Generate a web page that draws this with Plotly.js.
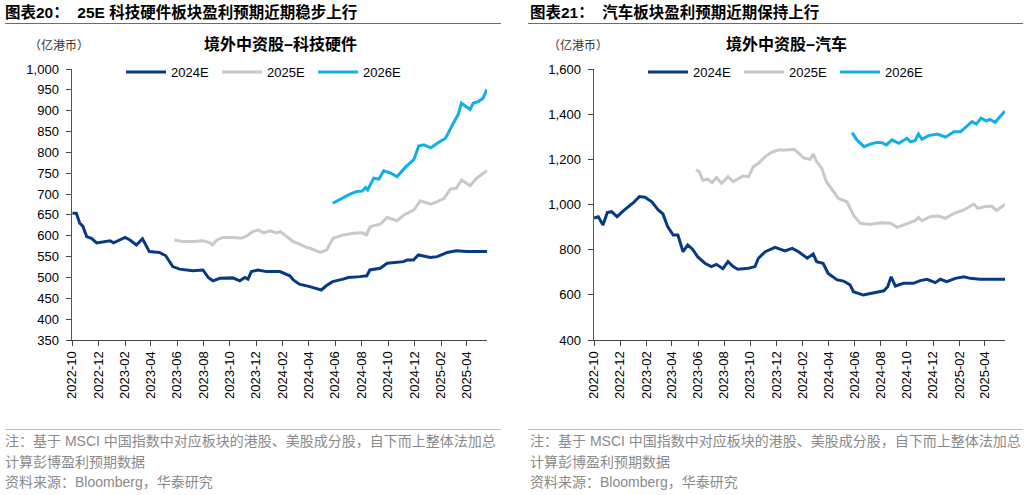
<!DOCTYPE html>
<html>
<head>
<meta charset="utf-8">
<script src="https://cdn.plot.ly/plotly-3.0.1.min.js"></script>
<style>
html,body{margin:0;padding:0;background:#fff;overflow:hidden;}
#chart{width:1030px;height:495px;}
</style>
</head>
<body>
<div id="chart"></div>
<script>
// ---- Chart 20: 境外中资股-科技硬件 ----
const tech2024Dates = ['2022-10-02','2022-10-11','2022-10-19','2022-10-26','2022-11-04','2022-11-15','2022-11-27','2022-12-12','2022-12-28','2023-01-05','2023-01-20','2023-02-01','2023-02-12','2023-02-27','2023-03-13','2023-03-29','2023-04-21','2023-05-06','2023-05-22','2023-06-07','2023-07-07','2023-07-31','2023-08-12','2023-08-23','2023-09-08','2023-10-08','2023-10-24','2023-11-05','2023-11-12','2023-11-20','2023-12-05','2023-12-25','2024-01-25','2024-02-17','2024-02-25','2024-03-10','2024-04-03','2024-04-30','2024-05-11','2024-05-26','2024-06-19','2024-07-01','2024-07-28','2024-08-13','2024-08-20','2024-09-13','2024-09-29','2024-10-21','2024-11-06','2024-11-14','2024-11-29','2024-12-10','2025-01-07','2025-01-23','2025-02-15','2025-03-08','2025-04-01','2025-05-18'];
const tech2024Values = [654,654,630,623,598,594,583,586,588,583,591,596,590,578,593,562,560,552,526,520,516,518,500,492,498,499,492,500,496,514,518,514,514,504,494,484,478,470,480,490,496,500,502,504,518,522,534,536,538,542,542,554,548,550,560,564,562,562];

const tech2025Dates = ['2023-05-26','2023-06-15','2023-07-07','2023-07-31','2023-08-16','2023-08-22','2023-09-01','2023-09-16','2023-10-09','2023-10-28','2023-11-10','2023-11-23','2023-12-06','2023-12-18','2024-01-03','2024-01-18','2024-01-26','2024-02-10','2024-02-25','2024-03-11','2024-03-26','2024-04-04','2024-04-27','2024-05-12','2024-05-27','2024-06-20','2024-07-13','2024-08-02','2024-08-12','2024-08-21','2024-09-13','2024-09-29','2024-10-22','2024-11-07','2024-11-30','2024-12-15','2025-01-08','2025-01-23','2025-02-08','2025-02-22','2025-03-08','2025-03-20','2025-04-09','2025-04-24','2025-05-06','2025-05-18'];
const tech2025Values = [590,586,586,588,583,578,590,596,596,594,600,610,614,607,612,607,610,598,586,580,572,570,560,566,594,602,606,607,602,622,628,644,636,650,662,684,676,682,690,712,714,734,720,738,746,756];

const tech2026Dates = ['2024-05-26','2024-06-12','2024-07-05','2024-07-21','2024-08-02','2024-08-10','2024-08-15','2024-08-29','2024-09-10','2024-09-21','2024-10-06','2024-10-22','2024-11-10','2024-11-30','2024-12-11','2024-12-23','2025-01-08','2025-01-23','2025-02-11','2025-03-01','2025-03-12','2025-03-20','2025-04-09','2025-04-16','2025-04-28','2025-05-09','2025-05-18'];
const tech2026Values = [678,688,700,706,707,716,710,738,736,756,751,742,764,783,815,818,811,822,834,870,890,918,903,918,922,930,951];

// ---- Chart 21: 境外中资股-汽车 ----
const auto2024Dates = ['2022-10-01','2022-10-11','2022-10-22','2022-11-01','2022-11-11','2022-11-24','2022-12-09','2022-12-20','2023-01-01','2023-01-15','2023-01-28','2023-02-13','2023-02-28','2023-03-11','2023-03-22','2023-04-04','2023-04-15','2023-04-27','2023-05-08','2023-05-19','2023-05-31','2023-06-17','2023-07-02','2023-07-14','2023-07-29','2023-08-10','2023-08-22','2023-09-02','2023-09-27','2023-10-12','2023-10-20','2023-11-05','2023-11-28','2023-12-21','2024-01-07','2024-01-22','2024-02-11','2024-02-25','2024-03-04','2024-03-19','2024-03-31','2024-04-21','2024-05-06','2024-05-21','2024-05-29','2024-06-21','2024-07-14','2024-08-08','2024-08-17','2024-08-25','2024-09-04','2024-09-23','2024-10-16','2024-11-01','2024-11-17','2024-12-06','2024-12-18','2025-01-02','2025-01-22','2025-02-11','2025-02-26','2025-03-20','2025-05-18'];
const auto2024Values = [940,946,909,964,968,946,973,990,1008,1035,1032,1012,976,958,902,865,865,791,821,802,769,740,725,735,716,747,725,713,718,725,762,791,810,795,806,791,762,781,747,740,695,666,661,644,614,599,607,618,636,680,639,651,651,663,669,654,669,658,673,680,673,669,669];

const auto2025Dates = ['2023-05-27','2023-06-04','2023-06-12','2023-06-24','2023-07-04','2023-07-14','2023-07-26','2023-08-10','2023-08-22','2023-09-02','2023-09-14','2023-09-27','2023-10-08','2023-10-20','2023-11-05','2023-11-20','2023-12-05','2023-12-21','2024-01-11','2024-01-22','2024-02-03','2024-02-18','2024-02-25','2024-03-04','2024-03-16','2024-03-27','2024-04-09','2024-04-24','2024-05-14','2024-05-29','2024-06-14','2024-07-07','2024-07-31','2024-08-24','2024-09-08','2024-10-01','2024-10-20','2024-10-28','2024-11-05','2024-11-24','2024-12-14','2024-12-30','2025-01-19','2025-02-11','2025-03-06','2025-03-16','2025-03-31','2025-04-17','2025-04-28','2025-05-18'];
const auto2025Values = [1153,1145,1108,1112,1097,1119,1094,1123,1101,1112,1126,1123,1167,1182,1212,1231,1241,1241,1244,1227,1205,1200,1224,1190,1160,1101,1064,1027,1012,953,917,912,919,917,899,914,928,943,928,946,949,939,961,976,1002,983,990,993,973,1001];

const auto2026Dates = ['2024-05-26','2024-06-06','2024-06-23','2024-07-07','2024-07-22','2024-08-03','2024-08-14','2024-08-27','2024-09-12','2024-10-01','2024-10-09','2024-10-20','2024-10-28','2024-11-05','2024-11-20','2024-12-11','2024-12-30','2025-01-19','2025-02-03','2025-02-19','2025-03-02','2025-03-12','2025-03-23','2025-04-04','2025-04-13','2025-04-25','2025-05-06','2025-05-18'];
const auto2026Values = [1318,1286,1256,1267,1275,1274,1264,1286,1271,1293,1278,1283,1312,1289,1305,1312,1298,1322,1322,1349,1367,1356,1382,1370,1377,1364,1389,1414];

const seriesNames = ['2024E','2025E','2026E'];
const seriesColors = ['#063a82','#c9c9c9','#12aee8'];

const W = 1030, H = 495;
const px = x => x / W;
const py = y => 1 - y / H;

function mk(x, y, i, xa, ya, lg) {
  return {x: x, y: y, type: 'scatter', mode: 'lines', name: seriesNames[i],
    line: {color: seriesColors[i], width: 3}, xaxis: xa, yaxis: ya, legend: lg,
    hoverinfo: 'skip'};
}

const traces = [
  mk(tech2024Dates, tech2024Values, 0, 'x', 'y', 'legend'),
  mk(tech2025Dates, tech2025Values, 1, 'x', 'y', 'legend'),
  mk(tech2026Dates, tech2026Values, 2, 'x', 'y', 'legend'),
  mk(auto2024Dates, auto2024Values, 0, 'x2', 'y2', 'legend2'),
  mk(auto2025Dates, auto2025Values, 1, 'x2', 'y2', 'legend2'),
  mk(auto2026Dates, auto2026Values, 2, 'x2', 'y2', 'legend2')
];

const tickFont = {family: 'Liberation Sans, Arial, sans-serif', size: 13, color: '#000'};
const cjk = 'Liberation Sans, Noto Sans CJK SC, sans-serif';

function xAxis(domain, anchor) {
  return {domain: domain, anchor: anchor, type: 'date',
    range: ['2022-10-01', '2025-05-18'],
    tick0: '2022-10-01', dtick: 'M2', tickformat: '%Y-%m', tickangle: -90,
    ticks: 'outside', ticklen: 5, tickcolor: '#444', tickwidth: 1,
    showline: true, linecolor: '#444', linewidth: 1, showgrid: false, zeroline: false,
    tickfont: tickFont, fixedrange: true, automargin: false};
}
function yAxis(domain, anchor, range, dtick) {
  return {domain: domain, anchor: anchor, range: range, dtick: dtick, tick0: range[0],
    tickformat: ',d', ticks: 'outside', ticklen: 5, tickcolor: '#444', tickwidth: 1,
    showline: true, linecolor: '#555', linewidth: 1.5, showgrid: false, zeroline: false,
    tickfont: tickFont, ticklabelstandoff: 4, fixedrange: true, automargin: false};
}

const yDom = [py(340), py(69)];

const notes1 = '注：基于 MSCI 中国指数中对应板块的港股、美股成分股，自下而上整体法加总';
const notes2 = '计算彭博盈利预期数据';
const notes3 = '资料来源：Bloomberg，华泰研究';
const noteFont = {family: cjk, size: 14, color: '#8a8a8a'};
const unitFont = {family: 'Noto Sans CJK SC, sans-serif', size: 12, color: '#333'};

function ann(text, x, y, size, opts) {
  return Object.assign({text: text, xref: 'paper', yref: 'paper', x: px(x), y: py(y),
    showarrow: false, xanchor: 'left', yanchor: 'middle',
    font: {family: cjk, size: size, color: '#000'}}, opts || {});
}

const annotations = [
  ann('<b>图表20：  25E 科技硬件板块盈利预期近期稳步上行</b>', 3, 12, 15.5),
  ann('<b>图表21：  汽车板块盈利预期近期保持上行</b>', 528, 12, 15.5),
  ann('<b>境外中资股–科技硬件</b>', 280, 44, 16, {xanchor: 'center'}),
  ann('<b>境外中资股–汽车</b>', 786, 44, 16, {xanchor: 'center'}),
  ann('（亿港币）', 59, 44, 12, {xanchor: 'center', font: unitFont}),
  ann('（亿港币）', 578, 44, 12, {xanchor: 'center', font: unitFont}),
  ann(notes1, 3, 441, 14, {font: noteFont}),
  ann(notes2, 3, 462, 14, {font: noteFont}),
  ann(notes3, 3, 482, 14, {font: noteFont}),
  ann(notes1, 528, 441, 14, {font: noteFont}),
  ann(notes2, 528, 462, 14, {font: noteFont}),
  ann(notes3, 528, 482, 14, {font: noteFont})
];

function hline(x0, x1, y, color, w) {
  return {type: 'line', xref: 'paper', yref: 'paper', x0: px(x0), x1: px(x1), y0: py(y), y1: py(y),
    line: {color: color, width: w}};
}
const shapes = [
  hline(5, 501, 23.5, '#5a6d96', 1.2),
  hline(528, 1023, 23.5, '#5a6d96', 1.2),
  hline(5, 501, 429.5, '#a9c1dd', 1.2),
  hline(528, 1023, 429.5, '#a9c1dd', 1.2)
];

function legendCfg(x) {
  return {orientation: 'h', x: px(x), y: py(72), xanchor: 'left', yanchor: 'middle',
    bgcolor: 'rgba(0,0,0,0)', borderwidth: 0, entrywidth: 41, entrywidthmode: 'pixels',
    itemwidth: 40, font: {family: 'Liberation Sans, Arial, sans-serif', size: 13, color: '#000'},
    traceorder: 'normal'};
}

const layout = {
  width: W, height: H,
  margin: {l: 0, r: 0, t: 0, b: 0, pad: 0, autoexpand: false},
  paper_bgcolor: '#fff', plot_bgcolor: '#fff',
  showlegend: true,
  xaxis: xAxis([px(72), px(487)], 'y'),
  yaxis: yAxis(yDom, 'x', [350, 1000], 50),
  xaxis2: xAxis([px(594), px(1005)], 'y2'),
  yaxis2: yAxis(yDom, 'x2', [400, 1600], 200),
  legend: legendCfg(121),
  legend2: legendCfg(643),
  annotations: annotations,
  shapes: shapes
};

Plotly.newPlot('chart', traces, layout, {displayModeBar: false, staticPlot: true});
</script>
</body>
</html>
